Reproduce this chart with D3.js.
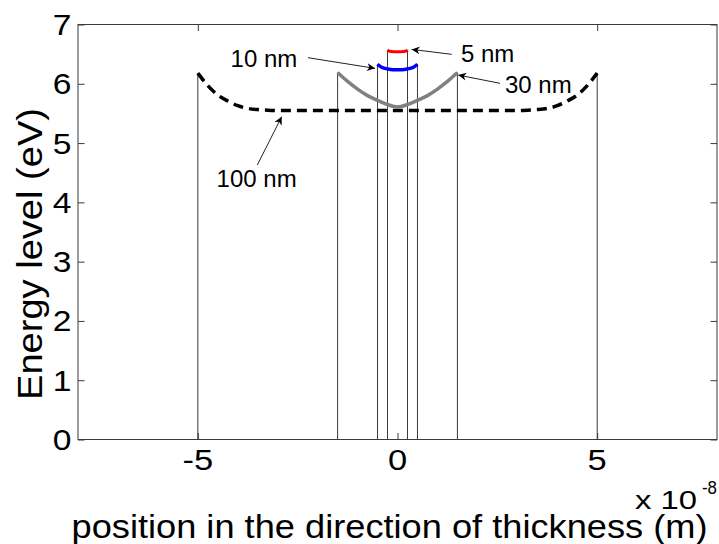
<!DOCTYPE html>
<html><head><meta charset="utf-8">
<script src="https://cdn.jsdelivr.net/npm/d3@7"></script>
<style>body{margin:0;background:#fff}svg{display:block}text{font-family:"Liberation Sans",Arial,sans-serif;fill:#000}</style>
</head><body><svg id="c" width="719" height="544"></svg>
<script>
// ---- data ----
const xTicks = [-5, 0, 5];
const yTicks = [0, 1, 2, 3, 4, 5, 6, 7];
const x100 = [-5, -4.75, -4.5, -4.25, -4, -3.75, -3.5, -3.25, -3, 0, 3, 3.25, 3.5, 3.75, 4, 4.25, 4.5, 4.75, 5];
const e100 = [6.18, 5.97, 5.81, 5.71, 5.63, 5.585, 5.565, 5.555, 5.55, 5.55, 5.55, 5.555, 5.565, 5.585, 5.63, 5.71, 5.81, 5.97, 6.18];
const x30 = [-1.5, -1.25, -1, -0.75, -0.5, -0.25, 0, 0.25, 0.5, 0.75, 1, 1.25, 1.5];
const e30 = [6.19, 6.04, 5.91, 5.80, 5.72, 5.65, 5.61, 5.65, 5.72, 5.80, 5.91, 6.04, 6.19];
const x10 = [-0.5, -0.4, -0.25, 0, 0.25, 0.4, 0.5];
const e10 = [6.33, 6.28, 6.25, 6.235, 6.25, 6.28, 6.33];
const x5 = [-0.25, -0.2, 0, 0.2, 0.25];
const e5 = [6.57, 6.55, 6.54, 6.55, 6.57];
const labels = ["100 nm", "30 nm", "10 nm", "5 nm"];
// annotation: text anchor (data units), arrow tail and tip (data units)
const annText = [[-4.53, 4.26], [2.69, 5.84], [-4.18, 6.28], [1.59, 6.37]];
const annTail = [[-3.51, 4.63], [2.566, 6.008], [-2.24, 6.44], [1.357, 6.497]];
const annTip  = [[-2.90, 5.445], [1.522, 6.147], [-0.563, 6.26], [0.356, 6.58]];

// ---- chart ----
const svg = d3.select("#c");
const L = 78, R = 717, T = 24.5, B = 439.5;
const x = d3.scaleLinear().domain([-8, 8]).range([L, R]);
const y = d3.scaleLinear().domain([0, 7]).range([B, T]);
const axisCol = "#3a3a3a";

svg.append("defs").append("marker").attr("id", "ah").attr("viewBox", "0 0 10 10")
  .attr("refX", 10).attr("refY", 5).attr("markerWidth", 12).attr("markerHeight", 8)
  .attr("markerUnits", "userSpaceOnUse").attr("orient", "auto")
  .append("path").attr("d", "M0,0 L10,5 L0,10 L3,5 Z").attr("fill", "#000");

// box
svg.append("rect").attr("x", L).attr("y", T).attr("width", R - L).attr("height", B - T)
  .attr("fill", "none").attr("stroke", axisCol).attr("stroke-width", 1);

// axes with inward ticks on all sides
const tl = 6.5;
svg.append("g").attr("transform", `translate(0,${B})`)
  .call(d3.axisBottom(x).tickValues(xTicks).tickSize(-tl).tickFormat(""))
  .call(g => { g.select(".domain").remove(); g.selectAll("line").attr("stroke", axisCol); });
svg.append("g").attr("transform", `translate(0,${T})`)
  .call(d3.axisTop(x).tickValues(xTicks).tickSize(-tl).tickFormat(""))
  .call(g => { g.select(".domain").remove(); g.selectAll("line").attr("stroke", axisCol); });
svg.append("g").attr("transform", `translate(${L},0)`)
  .call(d3.axisLeft(y).tickValues(yTicks).tickSize(-tl).tickFormat(""))
  .call(g => { g.select(".domain").remove(); g.selectAll("line").attr("stroke", axisCol); });
svg.append("g").attr("transform", `translate(${R},0)`)
  .call(d3.axisRight(y).tickValues(yTicks).tickSize(-tl).tickFormat(""))
  .call(g => { g.select(".domain").remove(); g.selectAll("line").attr("stroke", axisCol); });

// tick labels (slightly widened like the reference)
svg.selectAll(".xt").data(xTicks).enter().append("text")
  .attr("transform", d => `translate(${x(d)},470) scale(1.15,1)`).attr("text-anchor", "middle")
  .attr("font-size", 30).text(d => d);
svg.selectAll(".yt").data(yTicks).enter().append("text")
  .attr("transform", d => `translate(71.5,${y(d) + 10.5}) scale(1.12,1)`).attr("text-anchor", "end")
  .attr("font-size", 30).text(d => d);

// axis labels
svg.append("text").attr("transform", `translate(42,${400}) rotate(-90)`)
  .attr("font-size", 35).attr("textLength", 292).attr("lengthAdjust", "spacingAndGlyphs")
  .text("Energy level (eV)");
svg.append("text").attr("x", 71.5).attr("y", 538).attr("font-size", 33)
  .attr("textLength", 636).attr("lengthAdjust", "spacingAndGlyphs")
  .text("position in the direction of thickness (m)");
svg.append("text").attr("x", 635).attr("y", 509).attr("font-size", 25)
  .attr("textLength", 62).attr("lengthAdjust", "spacingAndGlyphs").text("x 10");
svg.append("text").attr("x", 702).attr("y", 494).attr("font-size", 18)
  .attr("textLength", 15).attr("lengthAdjust", "spacingAndGlyphs").text("-8");

// curves
const series = [
  {xs: x100, es: e100, color: "#000", w: 3.5, dash: "10,6"},
  {xs: x30, es: e30, color: "#808080", w: 3.5, dash: null},
  {xs: x10, es: e10, color: "#0000ff", w: 3.5, dash: null},
  {xs: x5, es: e5, color: "#ff0000", w: 3, dash: null}
];
const line = d3.line().x(d => x(d[0])).y(d => y(d[1])).curve(d3.curveMonotoneX);
// vertical boundary lines
series.forEach(s => {
  [s.xs[0], s.xs[s.xs.length - 1]].forEach((xv, i) => {
    const ev = i === 0 ? s.es[0] : s.es[s.es.length - 1];
    svg.append("line").attr("x1", x(xv)).attr("x2", x(xv)).attr("y1", y(0)).attr("y2", y(ev))
      .attr("stroke", "#3a3a3a").attr("stroke-width", 1);
  });
});
series.forEach(s => {
  svg.append("path").datum(s.xs.map((v, i) => [v, s.es[i]])).attr("d", line)
    .attr("fill", "none").attr("stroke", s.color).attr("stroke-width", s.w)
    .attr("stroke-dasharray", s.dash);
});

// annotations
labels.forEach((t, i) => {
  svg.append("line").attr("x1", x(annTail[i][0])).attr("y1", y(annTail[i][1]))
    .attr("x2", x(annTip[i][0])).attr("y2", y(annTip[i][1]))
    .attr("stroke", "#222").attr("stroke-width", 1).attr("marker-end", "url(#ah)");
  svg.append("text").attr("x", x(annText[i][0])).attr("y", y(annText[i][1]))
    .attr("font-size", 24).text(t);
});
</script></body></html>
